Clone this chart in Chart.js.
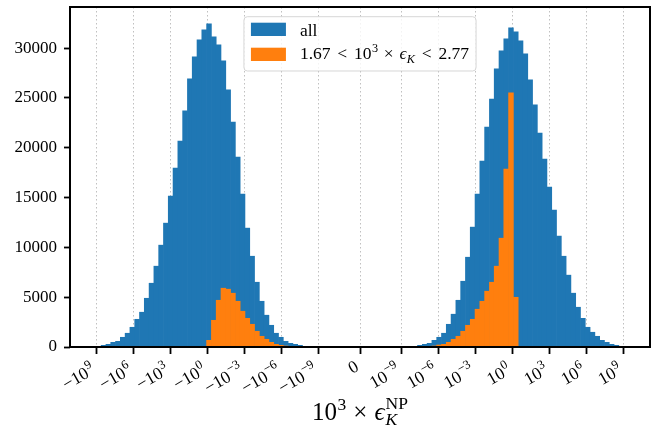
<!DOCTYPE html>
<html><head><meta charset="utf-8">
<script src="https://cdn.jsdelivr.net/npm/chart.js@4/dist/chart.umd.min.js"></script>
<style>html,body{margin:0;padding:0;background:#fff;}#wrap{width:662px;height:427px;}</style>
</head><body><div id="wrap"><canvas id="c" width="662" height="427"></canvas></div>
<script>
// ---------------- data ----------------
const binLow = -1e9, binHigh = 1e9, nBins = 110;
const countsAll = [
  30,170,270,470,570,975,1380,1980,2780,3490,
  4890,6400,8110,10220,12430,15150,17960,20670,23690,26900,
  29110,30820,31830,32430,31120,30320,28710,25800,22580,19060,
  15350,11930,9110,6500,4590,3190,2180,1380,975,570,
  370,270,170,40,0,0,0,0,0,0,
  0,0,0,0,0,0,0,0,0,0,
  0,0,0,0,0,0,40,170,270,370,
  670,975,1380,2280,3290,4690,6600,9010,12030,15350,
  18660,22080,24890,27910,29720,30920,32030,31630,30720,29420,
  26800,24290,21480,18860,16050,13740,11130,9110,7210,5400,
  3990,2880,1980,1480,1075,670,470,270,170,30
];
const countsSel = [
  0,0,0,0,0,0,0,0,0,0,
  0,0,0,0,0,0,0,0,0,0,
  0,0,0,670,2680,4690,5900,5800,5400,4590,
  3590,2880,2280,1580,1075,775,470,270,170,100,
  40,0,0,0,0,0,0,0,0,0,
  0,0,0,0,0,0,0,0,0,0,
  0,0,0,0,0,0,0,0,0,30,
  100,200,270,470,775,1075,1580,2180,2780,3790,
  4590,5600,6500,8110,10920,17860,25500,4990,0,0,
  0,0,0,0,0,0,0,0,0,0,
  0,0,0,0,0,0,0,0,0,0
];
const xTickValues = [-1e9,-1e6,-1e3,-1,-1e-3,-1e-6,-1e-9,0,1e-9,1e-6,1e-3,1,1e3,1e6,1e9];
const xTickLabels = ['−10^9','−10^6','−10^3','−10^0','−10^−3','−10^−6','−10^−9','0',
                     '10^−9','10^−6','10^−3','10^0','10^3','10^6','10^9'];
const yTickValues = [0,5000,10000,15000,20000,25000,30000];
const yMax = 34120;
const seriesNames = ['all', 'sel'];

// ---------------- symmetric log axis transform ----------------
const LINTHRESH = 1e-11, LINSCALE = 1.35;
function symlog(v){
  const a = Math.abs(v);
  if (a <= LINTHRESH) return v / LINTHRESH * LINSCALE;
  return Math.sign(v) * (LINSCALE + Math.log10(a / LINTHRESH));
}
const uLo = symlog(binLow), uHi = symlog(binHigh);
const binW = (uHi - uLo) / nBins;
const centers = countsAll.map((_, k) => uLo + (k + 0.5) * binW);
const margin = 0.05 * (uHi - uLo);

const BLUE = '#1f77b4', ORANGE = '#ff7f0e';
const FONT = '"Liberation Serif","Times New Roman",serif';
function font(size, it){ return (it ? 'italic ' : '') + size + 'px ' + FONT; }
function measure(ctx, segs){
  let w = 0;
  for (const s of segs){
    const items = s.group || [s];
    let m = 0;
    for (const g of items){ ctx.font = font(g.size, g.it); m = Math.max(m, ctx.measureText(g.t).width); }
    s._w = m; w += m + (s.pre || 0);
  }
  return w;
}
function drawSegs(ctx, segs, x, y){
  let cx = x;
  for (const s of segs){
    cx += (s.pre || 0);
    const items = s.group || [s];
    for (const g of items){ ctx.font = font(g.size, g.it); ctx.fillText(g.t, cx, y - (g.dy || 0)); }
    cx += s._w;
  }
}
function tickSegs(label, fs){
  const parts = label.split('^');
  const segs = [{t: parts[0], size: fs}];
  if (parts.length > 1) segs.push({t: parts[1], size: fs * 0.72, dy: fs * 0.42, pre: 0.6});
  return segs;
}

const decor = {
  id: 'decor',
  afterDatasetsDraw(chart){
    const {ctx, chartArea: a} = chart;
    ctx.save();
    ctx.strokeStyle = '#000'; ctx.lineWidth = 2;
    ctx.strokeRect(a.left, a.top, a.right - a.left, a.bottom - a.top);
    ctx.restore();
  },
  afterDraw(chart){
    const {ctx, chartArea: a} = chart;
    const xs = chart.scales.x;
    ctx.save();
    ctx.fillStyle = '#000';
    ctx.textAlign = 'left'; ctx.textBaseline = 'alphabetic';
    // x tick labels (rotated 30°, right aligned)
    const fs = 17.5, rad = Math.PI / 6, y0 = a.bottom + 12;
    xTickValues.forEach((v, i) => {
      const segs = tickSegs(xTickLabels[i], fs);
      const W = measure(ctx, segs);
      const top = segs.length > 1 ? fs * 0.42 + fs * 0.72 * 0.7 : fs * 0.7;
      const bot = 0.5;
      const px = xs.getPixelForValue(symlog(v));
      const ox = px - Math.sin(rad) * bot, oy = y0 + Math.cos(rad) * top;
      ctx.save(); ctx.translate(ox, oy); ctx.rotate(-rad);
      drawSegs(ctx, segs, -W, 0);
      ctx.restore();
    });
    // axis title
    const T = 25;
    const title = [
      {t:'10', size:T}, {t:'3', size:T*0.7, dy:T*0.42, pre:0.5},
      {t:'×', size:T, pre:T*0.28}, {t:'ϵ', size:T, it:true, pre:T*0.28},
      {group:[{t:'K', size:T*0.7, it:true, dy:-T*0.2}, {t:'NP', size:T*0.7, dy:T*0.45}], pre:1}
    ];
    const tw = measure(ctx, title);
    drawSegs(ctx, title, (a.left + a.right) / 2 - tw / 2, 420);
    // legend
    const L = 17.5, thick = L * 0.278 + 1.9, med = L * 0.222 + 1.9;
    const lab1 = [{t:seriesNames[0], size:L}];
    const lab2 = [
      {t:'1.67', size:L}, {t:'<', size:L, pre:thick}, {t:'10', size:L, pre:thick},
      {t:'3', size:L*0.7, dy:L*0.42, pre:0.5},
      {t:'×', size:L, pre:med}, {t:'ϵ', size:L, it:true, pre:med},
      {t:'K', size:L*0.7, it:true, dy:-L*0.2, pre:0.3},
      {t:'<', size:L, pre:thick}, {t:'2.77', size:L, pre:thick}
    ];
    const tw1 = measure(ctx, lab1), tw2 = measure(ctx, lab2);
    const bp = 0.4 * L, hl = 2 * L, hp = 0.8 * L;
    const bw = 2 * bp + hl + hp + Math.max(tw1, tw2);
    const bh = 54.3;
    const bx = (a.left + a.right) / 2 - bw / 2, by = a.top + 9.7;
    const r = 3.5;
    ctx.beginPath();
    ctx.moveTo(bx + r, by); ctx.lineTo(bx + bw - r, by); ctx.arcTo(bx + bw, by, bx + bw, by + r, r);
    ctx.lineTo(bx + bw, by + bh - r); ctx.arcTo(bx + bw, by + bh, bx + bw - r, by + bh, r);
    ctx.lineTo(bx + r, by + bh); ctx.arcTo(bx, by + bh, bx, by + bh - r, r);
    ctx.lineTo(bx, by + r); ctx.arcTo(bx, by, bx + r, by, r); ctx.closePath();
    ctx.fillStyle = 'rgba(255,255,255,0.8)'; ctx.fill();
    ctx.strokeStyle = 'rgba(204,204,204,0.8)'; ctx.lineWidth = 1; ctx.stroke();
    const hx = bx + bp;
    ctx.fillStyle = BLUE; ctx.fillRect(hx, by + 6, hl, 13.3);
    ctx.fillStyle = ORANGE; ctx.fillRect(hx, by + 31, hl, 13.3);
    ctx.fillStyle = '#000';
    drawSegs(ctx, lab1, hx + hl + hp, by + 19);
    drawSegs(ctx, lab2, hx + hl + hp, by + 42.3);
    ctx.restore();
  }
};

new Chart(document.getElementById('c'), {
  type: 'bar',
  data: {
    datasets: [
      {label: seriesNames[0], data: centers.map((c, k) => ({x: c, y: countsAll[k]})),
       backgroundColor: BLUE, order: 1},
      {label: seriesNames[1], data: centers.map((c, k) => ({x: c, y: countsSel[k]})),
       backgroundColor: ORANGE, order: 0}
    ]
  },
  options: {
    responsive: false, animation: false, devicePixelRatio: 1,
    layout: {padding: {left: 0, right: 12, top: 7, bottom: 0}},
    datasets: {bar: {barPercentage: 1, categoryPercentage: 1, grouped: false, borderWidth: 0}},
    plugins: {legend: {display: false}, tooltip: {enabled: false}},
    scales: {
      x: {
        type: 'linear', min: uLo - margin, max: uHi + margin, offset: false,
        grid: {offset: false, color: 'rgba(150,150,150,0.75)', lineWidth: 0.8,
               tickColor: '#000', tickWidth: 1.8, tickLength: 7, drawTicks: true},
        border: {display: false, dash: [1.5, 2.5]},
        ticks: {display: false},
        afterBuildTicks: s => { s.ticks = xTickValues.map(v => ({value: symlog(v)})); },
        afterFit: s => { s.height = 80; s.paddingLeft = 0; s.paddingRight = 0; }
      },
      y: {
        min: 0, max: yMax,
        grid: {drawOnChartArea: false, tickColor: '#000', tickWidth: 1.8, tickLength: 6},
        border: {display: false},
        ticks: {color: '#000', font: {family: FONT, size: 17}, padding: 7, callback: v => String(v)},
        afterBuildTicks: s => { s.ticks = yTickValues.map(v => ({value: v})); },
        afterFit: s => { s.width = 70; s.paddingTop = 0; s.paddingBottom = 0; }
      }
    }
  },
  plugins: [decor]
});
</script></body></html>
